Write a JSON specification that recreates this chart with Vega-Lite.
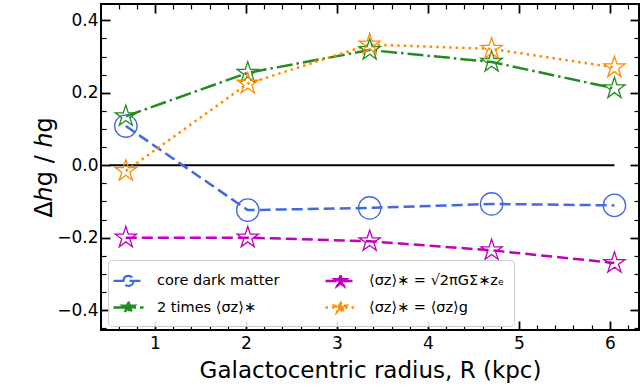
{
  "$schema": "https://vega.github.io/schema/vega-lite/v6.json",
  "width": 538,
  "height": 326,
  "autosize": {"type": "none"},
  "padding": {"left": 101, "top": 4, "right": 1, "bottom": 59},
  "config": {
    "font": "DejaVu Sans",
    "view": {"stroke": "black", "strokeWidth": 2},
    "axis": {"grid": false, "domain": false, "tickColor": "black", "labelColor": "black", "titleColor": "black", "labelFont": "DejaVu Sans", "titleFont": "DejaVu Sans", "titleFontWeight": "normal", "labelFontSize": 17}
  },
  "datasets": {
    "curves": [
      {"R": 0.68, "dh": 0.108, "model": "core dark matter"},
      {"R": 2.02, "dh": -0.124, "model": "core dark matter"},
      {"R": 3.36, "dh": -0.118, "model": "core dark matter"},
      {"R": 4.70, "dh": -0.107, "model": "core dark matter"},
      {"R": 6.05, "dh": -0.111, "model": "core dark matter"},
      {"R": 0.68, "dh": 0.135, "model": "2 times ⟨σz⟩∗"},
      {"R": 2.02, "dh": 0.255, "model": "2 times ⟨σz⟩∗"},
      {"R": 3.36, "dh": 0.318, "model": "2 times ⟨σz⟩∗"},
      {"R": 4.70, "dh": 0.285, "model": "2 times ⟨σz⟩∗"},
      {"R": 6.05, "dh": 0.212, "model": "2 times ⟨σz⟩∗"},
      {"R": 0.68, "dh": -0.2, "model": "⟨σz⟩∗ = √2πGΣ∗zₑ"},
      {"R": 2.02, "dh": -0.2, "model": "⟨σz⟩∗ = √2πGΣ∗zₑ"},
      {"R": 3.36, "dh": -0.21, "model": "⟨σz⟩∗ = √2πGΣ∗zₑ"},
      {"R": 4.70, "dh": -0.235, "model": "⟨σz⟩∗ = √2πGΣ∗zₑ"},
      {"R": 6.05, "dh": -0.27, "model": "⟨σz⟩∗ = √2πGΣ∗zₑ"},
      {"R": 0.68, "dh": -0.016, "model": "⟨σz⟩∗ = ⟨σz⟩g"},
      {"R": 2.02, "dh": 0.225, "model": "⟨σz⟩∗ = ⟨σz⟩g"},
      {"R": 3.36, "dh": 0.333, "model": "⟨σz⟩∗ = ⟨σz⟩g"},
      {"R": 4.70, "dh": 0.321, "model": "⟨σz⟩∗ = ⟨σz⟩g"},
      {"R": 6.05, "dh": 0.27, "model": "⟨σz⟩∗ = ⟨σz⟩g"}
    ],
    "zero": [{"R": 0.5, "R2": 6.05, "dh": 0}]
  },
  "resolve": {"axis": {"x": "independent", "y": "independent"}},
  "layer": [
    {
      "data": {"name": "zero"},
      "mark": {"type": "rule", "color": "black", "strokeWidth": 2},
      "encoding": {
        "x": {"field": "R", "type": "quantitative", "scale": {"domain": [0.407, 6.32], "nice": false, "zero": false},
          "axis": {"orient": "bottom", "values": [0.6, 0.8, 1, 1.2, 1.4, 1.6, 1.8, 2, 2.2, 2.4, 2.6, 2.8, 3, 3.2, 3.4, 3.6, 3.8, 4, 4.2, 4.4, 4.6, 4.8, 5, 5.2, 5.4, 5.6, 5.8, 6, 6.2],
            "tickSize": {"condition": {"test": "abs(datum.value - round(datum.value)) < 1e-6", "value": -9}, "value": -5},
            "tickWidth": {"condition": {"test": "abs(datum.value - round(datum.value)) < 1e-6", "value": 1.8}, "value": 1.2},
            "labelExpr": "abs(datum.value - round(datum.value)) < 1e-6 ? toString(round(datum.value)) : ''",
            "labelPadding": 22, "labelBaseline": "middle", "labelFlush": false, "labelOverlap": false,
            "title": "Galactocentric radius, R (kpc)", "titleFontSize": 23, "titleX": 269, "titleY": 40, "titleBaseline": "middle", "titleAlign": "center"}},
        "x2": {"field": "R2"},
        "y": {"field": "dh", "type": "quantitative", "scale": {"domain": [-0.455, 0.445], "nice": false, "zero": false},
          "axis": {"orient": "left", "values": [-0.45, -0.4, -0.35, -0.3, -0.25, -0.2, -0.15, -0.1, -0.05, 0, 0.05, 0.1, 0.15, 0.2, 0.25, 0.3, 0.35, 0.4],
            "tickSize": {"condition": {"test": "abs(datum.value*5 - round(datum.value*5)) < 1e-6", "value": -9}, "value": -5},
            "tickWidth": {"condition": {"test": "abs(datum.value*5 - round(datum.value*5)) < 1e-6", "value": 1.8}, "value": 1.2},
            "labelExpr": "abs(datum.value*5 - round(datum.value*5)) < 1e-6 ? format(datum.value, '.1f') : ''",
            "labelPadding": 12, "labelBaseline": "middle", "labelFlush": false, "labelOverlap": false,
            "title": "Δℎg / ℎg", "titleFontSize": 24, "titleX": -57, "titleY": 163, "titleAngle": 270, "titleBaseline": "middle", "titleAlign": "center"}}
      }
    },
    {
      "data": {"name": "curves"},
      "mark": {"type": "line", "strokeWidth": 2.5},
      "encoding": {
        "x": {"field": "R", "type": "quantitative",
          "axis": {"orient": "top", "values": [0.6, 0.8, 1, 1.2, 1.4, 1.6, 1.8, 2, 2.2, 2.4, 2.6, 2.8, 3, 3.2, 3.4, 3.6, 3.8, 4, 4.2, 4.4, 4.6, 4.8, 5, 5.2, 5.4, 5.6, 5.8, 6, 6.2],
            "tickSize": {"condition": {"test": "abs(datum.value - round(datum.value)) < 1e-6", "value": -9}, "value": -5},
            "tickWidth": {"condition": {"test": "abs(datum.value - round(datum.value)) < 1e-6", "value": 1.8}, "value": 1.2},
            "labels": false, "title": null}},
        "y": {"field": "dh", "type": "quantitative",
          "axis": {"orient": "right", "values": [-0.45, -0.4, -0.35, -0.3, -0.25, -0.2, -0.15, -0.1, -0.05, 0, 0.05, 0.1, 0.15, 0.2, 0.25, 0.3, 0.35, 0.4],
            "tickSize": {"condition": {"test": "abs(datum.value*5 - round(datum.value*5)) < 1e-6", "value": -9}, "value": -5},
            "tickWidth": {"condition": {"test": "abs(datum.value*5 - round(datum.value*5)) < 1e-6", "value": 1.8}, "value": 1.2},
            "labels": false, "title": null}},
        "color": {"field": "model", "type": "nominal",
          "scale": {"domain": ["core dark matter", "2 times ⟨σz⟩∗", "⟨σz⟩∗ = √2πGΣ∗zₑ", "⟨σz⟩∗ = ⟨σz⟩g"], "range": ["#4169e1", "#228b22", "#bf00bf", "#ff8c00"]},
          "legend": {"orient": "none", "legendX": 7, "legendY": 256, "columns": 2, "title": null, "symbolStrokeWidth": 2.3, "symbolSize": 400, "labelOffset": 17, "labelFontSize": 14.5, "labelFont": "DejaVu Sans", "labelColor": "black", "padding": 9, "rowPadding": 5, "columnPadding": 40, "fillColor": "rgba(255,255,255,0.85)", "strokeColor": "#cccccc", "cornerRadius": 4, "labelLimit": 400,
            "encode": {"symbols": {"update": {
              "shape": {"signal": "datum.value === 'core dark matter' ? 'M-1.5,0H1.5M0.5,0A0.5,0.5 0 1,1 -0.5,0A0.5,0.5 0 1,1 0.5,0' : 'M-1.5,0H1.5M0,-0.6L0.1347,-0.1854L0.5707,-0.1854L0.218,0.0708L0.3527,0.4854L0,0.2292L-0.3527,0.4854L-0.218,0.0708L-0.5707,-0.1854L-0.1347,-0.1854Z'"},
              "fill": {"signal": "datum.value === 'core dark matter' ? 'transparent' : scale('color', datum.value)"}
            }}}}},
        "strokeDash": {"field": "model", "type": "nominal",
          "scale": {"domain": ["core dark matter", "2 times ⟨σz⟩∗", "⟨σz⟩∗ = √2πGΣ∗zₑ", "⟨σz⟩∗ = ⟨σz⟩g"], "range": [[11, 5], [16, 4, 2.5, 4], [11, 5], [2.5, 4]]},
          "legend": {"orient": "none", "legendX": 7, "legendY": 256, "columns": 2, "title": null, "symbolStrokeWidth": 2.3, "symbolSize": 400, "labelOffset": 17, "labelFontSize": 14.5, "labelFont": "DejaVu Sans", "labelColor": "black", "padding": 9, "rowPadding": 5, "columnPadding": 40, "fillColor": "rgba(255,255,255,0.85)", "strokeColor": "#cccccc", "cornerRadius": 4, "labelLimit": 400}}
      }
    },
    {
      "data": {"name": "curves"},
      "mark": {"type": "point", "filled": false, "strokeWidth": 1.3, "size": 500, "opacity": 1},
      "encoding": {
        "x": {"field": "R", "type": "quantitative", "axis": null},
        "y": {"field": "dh", "type": "quantitative", "axis": null},
        "color": {"field": "model", "type": "nominal", "legend": null},
        "shape": {"condition": {"test": "datum.model === 'core dark matter'", "value": "circle"}, "value": "M0,-1L0.2245,-0.309L0.9511,-0.309L0.3633,0.118L0.5878,0.809L0,0.382L-0.5878,0.809L-0.3633,0.118L-0.9511,-0.309L-0.2245,-0.309Z"}
      }
    }
  ]
}
